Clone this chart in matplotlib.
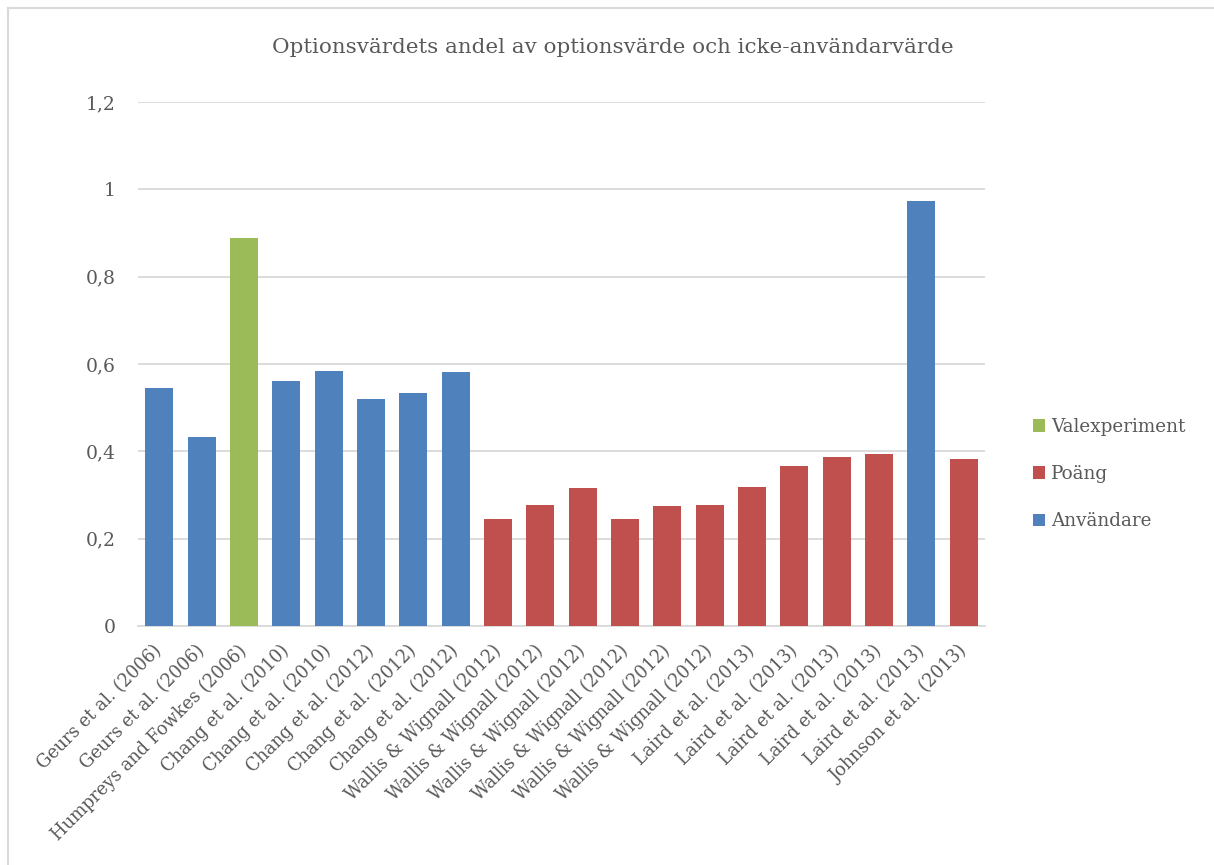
import matplotlib.pyplot as plt
import matplotlib as mpl
from matplotlib.patches import Patch
from matplotlib.lines import Line2D

# Data
studies = ["Geurs et al. (2006)", "Geurs et al. (2006)", "Humpreys and Fowkes (2006)",
           "Chang et al. (2010)", "Chang et al. (2010)", "Chang et al. (2012)",
           "Chang et al. (2012)", "Chang et al. (2012)", "Wallis & Wignall (2012)",
           "Wallis & Wignall (2012)", "Wallis & Wignall (2012)", "Wallis & Wignall (2012)",
           "Wallis & Wignall (2012)", "Wallis & Wignall (2012)", "Laird et al. (2013)",
           "Laird et al. (2013)", "Laird et al. (2013)", "Laird et al. (2013)",
           "Laird et al. (2013)", "Johnson et al. (2013)"]
values = [0.545, 0.432, 0.888, 0.562, 0.583, 0.519, 0.533, 0.582,
          0.244, 0.278, 0.317, 0.244, 0.274, 0.278, 0.319,
          0.366, 0.386, 0.393, 0.973, 0.382]
method = ["Användare", "Användare", "Valexperiment", "Användare", "Användare",
          "Användare", "Användare", "Användare", "Poäng", "Poäng", "Poäng",
          "Poäng", "Poäng", "Poäng", "Poäng", "Poäng", "Poäng", "Poäng",
          "Användare", "Poäng"]
legend_order = ["Valexperiment", "Poäng", "Användare"]
yticks = [0, 0.2, 0.4, 0.6, 0.8, 1, 1.2]

colors = {"Användare": "#4F81BD", "Poäng": "#C0504D", "Valexperiment": "#9BBB59"}
txt = "#595959"
plt.rcParams['font.family'] = ['DejaVu Serif']

fig = plt.figure(figsize=(12.14, 8.65), dpi=100)
ax = fig.add_axes([138/1214, 239/865, 847/1214, 524/865])

x = range(len(values))
ax.bar(x, values, width=0.66, color=[colors[m] for m in method], zorder=3)

ax.set_xlim(-0.5, len(values) - 0.5)
ax.set_ylim(0, 1.2)
ax.set_yticks(yticks)
ax.yaxis.set_major_formatter(mpl.ticker.FuncFormatter(
    lambda v, p: f"{v:g}".replace(".", ",")))
ax.grid(axis="y", color="#D9D9D9", linewidth=1.3, zorder=0)
for s in ["top", "right", "left"]:
    ax.spines[s].set_visible(False)
ax.spines["bottom"].set_color("#D9D9D9")
ax.spines["bottom"].set_linewidth(1.3)
ax.tick_params(axis="both", length=0, colors=txt)
ax.tick_params(axis="y", labelsize=13.5, pad=16)
ax.set_xticks(list(x))
ax.set_xticklabels(studies, rotation=45, ha="right", va="center",
                   rotation_mode="anchor", fontsize=12.7, color=txt)
ax.tick_params(axis="x", pad=16)

fig.suptitle("Optionsvärdets andel av optionsvärde och icke-användarvärde",
             x=0.505, y=0.956, fontsize=15.4, color=txt)

handles = [Patch(facecolor=colors[m], edgecolor="none") for m in legend_order]
fig.legend(handles, legend_order, loc="center left", bbox_to_anchor=(0.837, 0.452),
           frameon=False, fontsize=13.2, handlelength=0.7, handleheight=0.7,
           handletextpad=0.3, labelspacing=1.6, labelcolor=txt)

# chart border (only top and left visible in the crop)
fig.add_artist(Line2D([8/1214, 8/1214], [0, 1 - 8/865], color="#D9D9D9", lw=1.5))
fig.add_artist(Line2D([8/1214, 1], [1 - 8/865, 1 - 8/865], color="#D9D9D9", lw=1.5))

plt.savefig("out.png", dpi=100)
